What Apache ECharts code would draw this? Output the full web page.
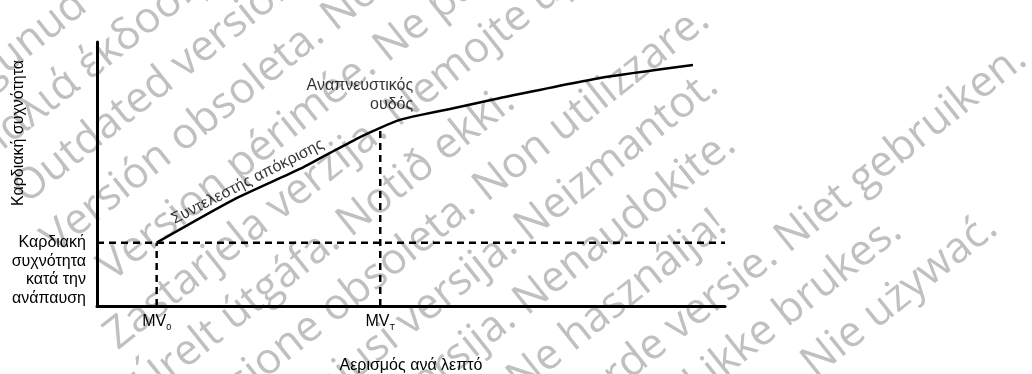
<!DOCTYPE html>
<html><head><meta charset="utf-8">
<script src="https://cdn.jsdelivr.net/npm/echarts@6/dist/echarts.min.js"></script>
<style>html,body{margin:0;padding:0;background:#fff}#c{width:1032px;height:374px}</style>
</head><body><div id="c"></div>
<script>
// ---- data ----
const ventilation = [9.5, 21.7, 32.3, 37.1, 41.9, 45.1, 48.2, 51.4, 56.2, 64.2, 80.1, 94.9];
const heartRate   = [24, 40.2, 51.9, 58.0, 64.0, 67.5, 70.5, 72.3, 74.6, 78.8, 86.4, 91.3];
const restHR = 24;
const mv0 = 9.5;
const mvT = 45.1;
const kneeHR = 67.5;
const xTickValues = [mv0, mvT];
const xTickMain = ['MV', 'MV'];
const xTickSub = ['0', 'T'];
const restLabel = ['Καρδιακή', 'συχνότητα', 'κατά την', 'ανάπαυση'];
const thresholdLabel = ['Αναπνευστικός', 'ουδός'];
const slopeLabel = 'Συντελεστής απόκρισης';
const slopeAt = 1; // index of the curve point the slope caption sits on
const xName = 'Αερισμός ανά λεπτό';
const yName = 'Καρδιακή συχνότητα';
const watermarkLines = [
  'Aegunud versioon. Ärge kasutage.',
  'Παλιά έκδοση. Μην την χρησιμοποιείτε.',
  'Outdated version. Do not use.',
  'Versión obsoleta. No utilizar.',
  'Version périmée. Ne pas utiliser.',
  'Zastarjela verzija. Nemojte upotrebljavati.',
  'Úrelt útgáfa. Notið ekki.',
  'Versione obsoleta. Non utilizzare.',
  'Novecojusi versija. Neizmantot.',
  'Pasenusi versija. Nenaudokite.',
  'Elavult verzió. Ne használja!',
  'Verouderde versie. Niet gebruiken.',
  'Utdatert versjon. Skal ikke brukes.',
  'Wersja przeterminowana. Nie używać.'
];
const watermarkShift = [-116, -112, -107, -115, -88, -126, -134, 542, 508, 485, 428, 766, 561, 638];
const watermarkAlign = ['left','left','left','left','left','left','left','right','right','right','right','right','right','right'];

// ---- build ----
const FONT = '"Liberation Sans", Arial, sans-serif';
const WMFONT = '"Open Sans", "Noto Sans", sans-serif';
const FS = 16;
const chart = echarts.init(document.getElementById('c'), null, {renderer: 'canvas'});

const th = 38.5 * Math.PI / 180, cs = Math.cos(th), sn = Math.sin(th);
const wmSize = 43, wmGap = 57, wmV7 = 461.6;
const wm = watermarkLines.map((t, k) => {
  const u = watermarkShift[k];
  const v = wmV7 + (k - 7) * wmGap - 0.285 * wmSize;
  return {
    type: 'text', z: -10, silent: true,
    x: u * cs + v * sn, y: -u * sn + v * cs, rotation: th,
    style: { text: t, fill: '#c0c0c0', font: '400 ' + wmSize + 'px ' + WMFONT,
      textAlign: watermarkAlign[k], textVerticalAlign: 'middle',
      align: watermarkAlign[k], verticalAlign: 'middle' }
  };
});

const curveData = ventilation.map((x, i) => [x, heartRate[i]]);
const annotations = [
  { value: [ventilation[slopeAt], heartRate[slopeAt]],
    label: { show: true, formatter: slopeLabel, position: [18.5, -10.5],
      rotate: 27, align: 'center', verticalAlign: 'bottom',
      fontSize: FS, color: '#000', fontFamily: FONT } },
  { value: [mvT, kneeHR],
    label: { show: true, formatter: thresholdLabel.join('\n'), position: [33.5, -13],
      align: 'right', verticalAlign: 'bottom', fontSize: FS,
      lineHeight: 19, color: '#000', fontFamily: FONT } }
];

const dash = { color: '#000', width: 2.5, type: [7, 5] };
const option = {
  animation: false,
  backgroundColor: '#fff',
  textStyle: { fontFamily: FONT },
  graphic: wm,
  grid: { left: 97, right: 307, top: 42, bottom: 68, containLabel: false, outerBoundsMode: 'none' },
  xAxis: {
    type: 'value', min: 0, max: 100,
    name: xName, nameLocation: 'middle', nameGap: 52, nameMoveOverlap: false,
    nameTextStyle: { fontSize: FS, color: '#000', fontFamily: FONT },
    axisLine: { show: true, onZero: false, lineStyle: { color: '#000', width: 3 } },
    axisTick: { show: false }, splitLine: { show: false },
    axisLabel: { show: true, customValues: xTickValues, margin: 5, color: '#000',
      formatter: v => { const i = xTickValues.indexOf(v); return '{a|' + xTickMain[i] + '}{b|' + xTickSub[i] + '}'; },
      rich: { a: { fontSize: FS, color: '#000', fontFamily: FONT },
              b: { fontSize: 9, color: '#000', fontFamily: FONT, padding: [12, 0, 0, 0] } } }
  },
  yAxis: {
    type: 'value', min: 0, max: 100,
    name: yName, nameLocation: 'middle', nameRotate: 90, nameGap: 70, nameMoveOverlap: false,
    nameTextStyle: { fontSize: FS, color: '#000', fontFamily: FONT, padding: [0, 0, 0, 82] },
    axisLine: { show: true, onZero: false, lineStyle: { color: '#000', width: 3 } },
    axisTick: { show: false }, splitLine: { show: false },
    axisLabel: { show: true, customValues: [restHR], margin: 11, color: '#000', fontSize: FS,
      lineHeight: 18.5, align: 'right', verticalAlign: 'top', padding: [-9, 0, 0, 0],
      formatter: () => restLabel.join('\n') }
  },
  series: [
    { type: 'line', data: curveData, smooth: 0.2, symbol: 'none', z: 5,
      lineStyle: { color: '#000', width: 2.5 } },
    { type: 'line', data: [[0, restHR], [100, restHR]], symbol: 'none', lineStyle: dash, z: 4 },
    { type: 'line', data: [[mv0, 0], [mv0, restHR]], symbol: 'none', lineStyle: dash, z: 4 },
    { type: 'line', data: [[mvT, 0], [mvT, kneeHR]], symbol: 'none', lineStyle: dash, z: 4 },
    { type: 'scatter', data: annotations, symbol: 'circle', symbolSize: 1, z: 6,
      itemStyle: { color: 'rgba(0,0,0,0)' }, labelLayout: { hideOverlap: false } }
  ]
};
chart.setOption(option);
</script></body></html>
